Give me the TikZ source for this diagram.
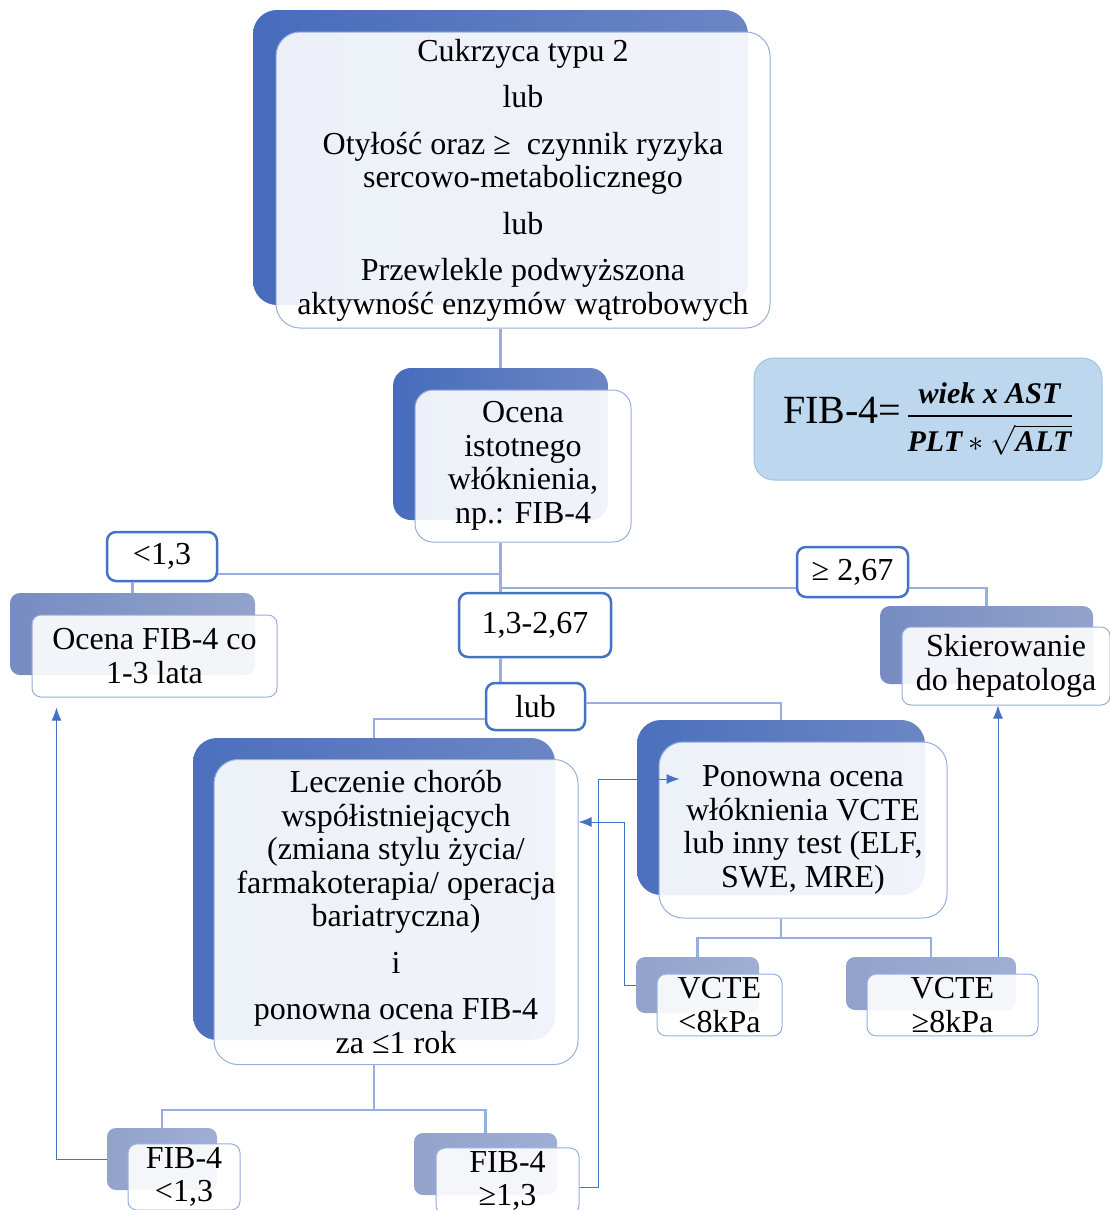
\documentclass[tikz,border=0pt]{standalone}
\usepackage{amsmath}
\usepackage{unicode-math}
\setmainfont{Liberation Serif}
\setmathfont{Latin Modern Math}
\usetikzlibrary{arrows.meta}

\definecolor{backdark}{RGB}{70,108,188}
\definecolor{backmid}{RGB}{108,134,196}
\definecolor{backsoft}{RGB}{118,140,194}
\definecolor{backlite}{RGB}{146,163,203}
\definecolor{backpale}{RGB}{158,174,212}
\definecolor{framecol}{RGB}{150,174,222}
\definecolor{tagblue}{RGB}{68,114,196}
\definecolor{linkcol}{RGB}{150,175,222}
\definecolor{formfill}{RGB}{189,215,238}
\definecolor{formline}{RGB}{157,195,230}

\begin{document}
\begin{tikzpicture}[x=1pt, y=-1pt]
    \tikzstyle{backbox} = [rectangle, rounded corners=24pt, draw=none, left color=backdark, right color=backmid]
    \tikzstyle{smallback} = [rectangle, rounded corners=10pt, draw=none, left color=backsoft, right color=backlite]
    \tikzstyle{paleback} = [rectangle, rounded corners=9pt, draw=none, left color=backlite, right color=backpale]
    \tikzstyle{front} = [rectangle, rounded corners=24pt, draw=framecol, line width=1pt, fill=white, fill opacity=0.9, text opacity=1, align=center, font=\fontsize{32}{33.5}\selectfont]
    \tikzstyle{smallfront} = [front, rounded corners=9pt]
    \tikzstyle{tag} = [rectangle, rounded corners=9pt, draw=tagblue, line width=2.5pt, fill=white, align=center, font=\fontsize{32}{33}\selectfont]
    \tikzstyle{line} = [draw=linkcol, line width=2.5pt]
    \tikzstyle{arrow} = [draw=tagblue, line width=1pt, -{Latex[length=13pt,width=10pt]}]
    \useasboundingbox (0,0) rectangle (1109,1210);
    % Nodes (back)
    \node (topbg) [backbox, minimum width=495pt, minimum height=295pt] at (500.5,157.5) {};
    \node (ocenabg) [backbox, rounded corners=18pt, minimum width=215pt, minimum height=152pt] at (500.5,444) {};
    \node (ocenacobg) [smallback, minimum width=245pt, minimum height=82pt] at (132.5,634) {};
    \node (skierbg) [smallback, minimum width=213pt, minimum height=78pt] at (986.5,645) {};
    \node (leczbg) [backbox, left color=backdark!85!backmid, minimum width=362pt, minimum height=302pt] at (374,889) {};
    \node (ponbg) [backbox, left color=backdark!85!backmid, minimum width=288pt, minimum height=175pt] at (781,807.5) {};
    \node (vlobg) [paleback, minimum width=123pt, minimum height=56pt] at (697.5,985) {};
    \node (vhibg) [paleback, minimum width=170pt, minimum height=53pt] at (931,983.5) {};
    \node (fib1bg) [paleback, minimum width=110pt, minimum height=62pt] at (162,1159) {};
    \node (fib2bg) [paleback, minimum width=143pt, minimum height=62pt] at (485.5,1164) {};
    % Nodes (front)
    \node (topbox) [front, minimum width=494pt, minimum height=296pt] at (523,180) {Cukrzyca typu 2\\[13pt] lub\\[13pt] Otyłość oraz ≥\ \ czynnik ryzyka\\ sercowo-metabolicznego\\[13pt] lub\\[13pt] Przewlekle podwyższona\\ aktywność enzymów wątrobowych};
    \node (ocena) [front, rounded corners=18pt, minimum width=216pt, minimum height=152pt] at (523,466) {Ocena\\ istotnego\\ włóknienia,\\ np.: FIB-4};
    \node (ocenaco) [smallfront, minimum width=245pt, minimum height=82pt] at (154.5,656) {Ocena FIB-4 co\\ 1-3 lata};
    \node (skier) [smallfront, minimum width=208pt, minimum height=78pt] at (1006,666) {Skierowanie\\ do hepatologa};
    \node (lecz) [front, minimum width=364pt, minimum height=305pt] at (396,912) {Leczenie chorób\\ współistniejących\\ (zmiana stylu życia/\\ farmakoterapia/ operacja\\ bariatryczna)\\[13pt] i\\[13pt] ponowna ocena FIB-4\\ za ≤1 rok};
    \node (pon) [front, minimum width=288pt, minimum height=176pt] at (803,830) {Ponowna ocena\\ włóknienia VCTE\\ lub inny test (ELF,\\ SWE, MRE)};
    \node (vlo) [smallfront, minimum width=125pt, minimum height=57pt] at (719.5,1005) {VCTE\\ <8kPa};
    \node (vhi) [smallfront, minimum width=171pt, minimum height=56pt] at (952.5,1005) {VCTE\\ ≥8kPa};
    \node (fib1) [smallfront, minimum width=112pt, minimum height=57pt] at (184,1177) {FIB-4\\ <1,3};
    \node (fib2) [smallfront, minimum width=143pt, minimum height=57pt] at (507.5,1181) {FIB-4\\ ≥1,3};
    % Nodes (labels)
    \node (lt13) [tag, minimum width=110pt, minimum height=49pt] at (162,556.5) {<1,3};
    \node (ge267) [tag, minimum width=111pt, minimum height=50pt] at (852.5,572) {≥ 2,67};
    \node (mid) [tag, minimum width=152pt, minimum height=64pt] at (535,625) {1,3-2,67};
    \node (lub) [tag, minimum width=99pt, minimum height=47pt] at (535.5,706.5) {lub};
    \node (formula) [rectangle, rounded corners=20pt, draw=formline, line width=1pt, fill=formfill, minimum width=348pt, minimum height=122pt, font=\fontsize{30}{36}\selectfont] at (928,419) {{\fontsize{40}{44}\selectfont FIB-4=}\,$\genfrac{}{}{2.5pt}{0}{\rule[-4pt]{0pt}{4pt}\mbox{\bfseries\itshape wiek x AST}}{\rule{0pt}{31pt}\mbox{\bfseries\itshape PLT} \ast \sqrt{\mbox{\bfseries\itshape ALT}}}$};
    % Lines
    \coordinate (jlow) at (500.5,574);
    \coordinate (jhigh) at (500.5,588);
    \coordinate (vsplit) at (781,938);
    \coordinate (fsplit) at (374,1110);
    \coordinate (upx) at (998,0);
    \draw [line] (topbox.south -| topbg.south) -- (ocenabg.north);
    \draw [line] (ocena.south -| ocenabg.south) -- (mid.north -| ocenabg.south);
    \draw [line] (lt13.east |- jlow) -- (jlow);
    \draw [line] (jhigh) -- (jhigh -| ge267.west);
    \draw [line] (ge267.east |- jhigh) -| (skierbg.north);
    \draw [line] (lt13.south -| ocenacobg.north) -- (ocenacobg.north);
    \draw [line] (mid.south -| ocenabg.south) -- (lub.north -| ocenabg.south);
    \draw [line] ([yshift=-12.5pt]lub.west) -| (leczbg.north);
    \draw [line] ([yshift=3.5pt]lub.east) -| (ponbg.north);
    \draw [line] (pon.south -| ponbg.south) -- (vsplit);
    \draw [line] (vlobg.north) |- (vsplit) -| (vhibg.north);
    \draw [line] (lecz.south -| leczbg.south) -- (fsplit);
    \draw [line] (fib1bg.north) |- (fsplit) -| (fib2bg.north);
    % Arrows
    \draw [arrow] (vhibg.north -| upx) -- (skier.south -| upx);
    \draw [arrow] (vlobg.west) -- ++(-11,0) |- ([yshift=90pt]lecz.east);
    \draw [arrow] ([yshift=-6pt]fib2.east) -- ++(19,0) |- ([xshift=21pt,yshift=51pt]pon.west);
    \draw [arrow] (fib1bg.west) -| ([xshift=25pt,yshift=-10pt]ocenaco.south west);
\end{tikzpicture}
\end{document}
